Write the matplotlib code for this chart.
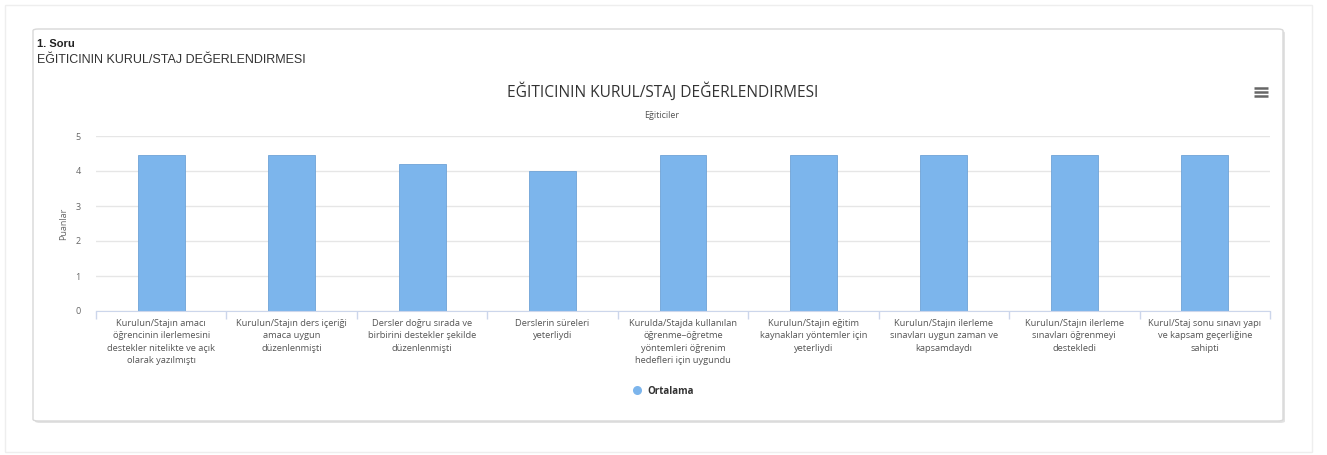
import matplotlib
matplotlib.use("Agg")
import matplotlib.pyplot as plt
from matplotlib.patches import FancyBboxPatch, Rectangle
from matplotlib.lines import Line2D

# data
categories = [
    "Kurulun/Stajın amacı\nöğrencinin ilerlemesini\ndestekler nitelikte ve açık\nolarak yazılmıştı",
    "Kurulun/Stajın ders içeriği\namaca uygun\ndüzenlenmişti",
    "Dersler doğru sırada ve\nbirbirini destekler şekilde\ndüzenlenmişti",
    "Derslerin süreleri\nyeterliydi",
    "Kurulda/Stajda kullanılan\nöğrenme–öğretme\nyöntemleri öğrenim\nhedefleri için uygundu",
    "Kurulun/Stajın eğitim\nkaynakları yöntemler için\nyeterliydi",
    "Kurulun/Stajın ilerleme\nsınavları uygun zaman ve\nkapsamdaydı",
    "Kurulun/Stajın ilerleme\nsınavları öğrenmeyi\ndestekledi",
    "Kurul/Staj sonu sınavı yapı\nve kapsam geçerliğine\nsahipti",
]
ortalama = [4.46, 4.46, 4.2, 3.99, 4.46, 4.46, 4.46, 4.46, 4.46]
y_ticks = [0, 1, 2, 3, 4, 5]

question_no = "1. Soru"
question_text = "EĞITICININ KURUL/STAJ DEĞERLENDIRMESI"
chart_title = "EĞITICININ KURUL/STAJ DEĞERLENDIRMESI"
chart_subtitle = "Eğiticiler"
y_title = "Puanlar"
series_name = "Ortalama"

W, H = 1327, 455
bar_color = "#7cb5ec"
label_color = "#666666"

plt.rcParams['font.family'] = ['Open Sans', 'DejaVu Sans']

fig = plt.figure(figsize=(W / 100, H / 100), dpi=100)
fig.patch.set_facecolor("white")

def fx(px):
    return px / W

def fy(py):
    return 1 - py / H

# faint page frame and the card
fig.patches.append(Rectangle((fx(5), fy(452)), fx(1307), 447 / H, transform=fig.transFigure,
                             facecolor="white", edgecolor="#eeeeee", linewidth=1, zorder=0))
fig.patches.append(FancyBboxPatch((fx(35), fy(423)), fx(1250), 392 / H, transform=fig.transFigure,
                                  boxstyle="round,pad=0,rounding_size=0.004",
                                  facecolor="#e2e2e2", edgecolor="none", zorder=0.5))
fig.patches.append(FancyBboxPatch((fx(33), fy(421)), fx(1250), 392 / H, transform=fig.transFigure,
                                  boxstyle="round,pad=0,rounding_size=0.004",
                                  facecolor="white", edgecolor="#d8d8d8", linewidth=1, zorder=1))

fig.text(fx(37), fy(44), question_no, fontsize=8, fontweight="bold", color="#222222",
         family="Liberation Sans", va="center", ha="left", zorder=3)
fig.text(fx(37), fy(60), question_text, fontsize=9, color="#333333",
         family="Liberation Sans", va="center", ha="left", zorder=3)

fig.text(fx(663), fy(92), chart_title, fontsize=11.2, color="#333333", ha="center", va="center", zorder=3)
fig.text(fx(662), fy(116), chart_subtitle, fontsize=6.5, color="#555555", ha="center", va="center", zorder=3)

# menu icon
for yy in (88, 92, 96):
    fig.lines.append(Line2D([fx(1254), fx(1268)], [fy(yy), fy(yy)], transform=fig.transFigure,
                            color="#666666", linewidth=1.8, solid_capstyle="butt", zorder=3))

ax = fig.add_axes([fx(96), fy(311), fx(1270 - 96), (311 - 136) / H])
ax.set_zorder(2)
ax.patch.set_visible(False)
x = range(len(ortalama))
ax.bar(x, ortalama, width=0.36, color=bar_color, edgecolor="#6fa3d6", linewidth=0.6, zorder=3)

ax.set_xlim(-0.5, len(ortalama) - 0.5)
ax.set_ylim(0, 5)
ax.set_yticks(y_ticks)
ax.set_yticklabels([str(v) for v in y_ticks])
ax.set_xticks(list(x))
ax.set_xticklabels(categories, fontsize=6.7, color="#555555", linespacing=1.45, va="top")
ax.set_xticks([i - 0.5 for i in range(len(ortalama) + 1)], minor=True)
ax.tick_params(axis="x", which="major", length=0, pad=6)
ax.tick_params(axis="x", which="minor", length=6, color="#ccd6eb", width=1)
ax.tick_params(axis="y", length=0, pad=11, labelsize=6.5, labelcolor=label_color)
for lbl in ax.get_yticklabels():
    lbl.set_horizontalalignment("right")

ax.grid(axis="y", color="#e6e6e6", linewidth=1, zorder=0)
ax.set_axisbelow(True)
for side in ("top", "right", "left"):
    ax.spines[side].set_visible(False)
ax.spines["bottom"].set_color("#ccd6eb")
ax.spines["bottom"].set_zorder(4)

ax.set_ylabel(y_title, fontsize=6.5, color=label_color)
ax.yaxis.set_label_coords(-(96 - 68) / (1270 - 96), 0.5)

# legend
fig.lines.append(Line2D([fx(637)], [fy(390)], transform=fig.transFigure, marker="o",
                        markersize=6.5, markerfacecolor=bar_color, markeredgecolor="none",
                        linestyle="none", zorder=3))
fig.text(fx(647), fy(391), series_name, fontsize=7, fontweight="bold", color="#333333",
         ha="left", va="center", zorder=3)

fig.savefig("out.png", dpi=100)
